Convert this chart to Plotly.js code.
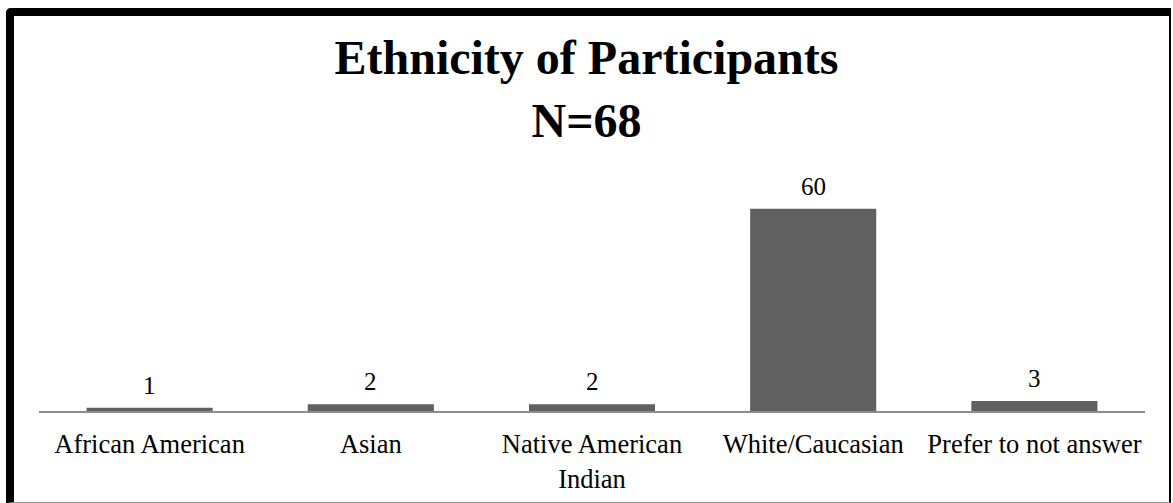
<!DOCTYPE html>
<html>
<head>
<meta charset="utf-8">
<script src="https://cdn.plot.ly/plotly-3.0.1.min.js"></script>
<style>
  html, body { margin: 0; padding: 0; background: #fff; }
  #wrap { position: relative; width: 1173px; height: 503px; overflow: hidden; }
  #chart { position: absolute; left: 0; top: 0; width: 1173px; height: 503px; }
  #frame {
    position: absolute; left: 6px; top: 8px; width: 1155px; height: 486px;
    border-top: 8px solid #000; border-left: 8px solid #000;
    border-right: 2px solid #000; border-bottom: 1px solid #999;
    border-top-left-radius: 5px; pointer-events: none;
  }
</style>
</head>
<body>
<div id="wrap">
  <div id="chart"></div>
  <div id="frame"></div>
</div>
<script>
const categories = ["African American", "Asian", "Native American<br>Indian", "White/Caucasian", "Prefer to not answer"];
const counts = [1, 2, 2, 60, 3];
const chartTitle = "Ethnicity of Participants<br>N=68";

const serif = "Liberation Serif, Times New Roman, serif";

const trace = {
  type: "bar",
  x: categories,
  y: counts,
  marker: { color: "#606060" },
  hoverinfo: "x+y"
};

const annotations = categories.map((c, i) => ({
  x: c, y: counts[i], xref: "x", yref: "y",
  text: String(counts[i]), showarrow: false,
  yanchor: "bottom", yshift: 7,
  font: { family: serif, size: 25, color: "#000" }
}));

const layout = {
  width: 1173, height: 503,
  margin: { l: 39, r: 28, t: 175, b: 92 },
  paper_bgcolor: "#fff", plot_bgcolor: "#fff",
  showlegend: false,
  bargap: 0.43,
  title: {
    text: chartTitle,
    font: { family: serif, size: 48, color: "#000", weight: "bold" },
    x: 0.5, xanchor: "center",
    yref: "container", y: 0.852, yanchor: "top"
  },
  xaxis: {
    type: "category",
    showline: true, linecolor: "#8c8c8c", linewidth: 1.5,
    ticks: "", showgrid: false, zeroline: false,
    tickfont: { family: serif, size: 26.5, color: "#000" },
    ticklabelstandoff: 9,
    fixedrange: true
  },
  yaxis: {
    range: [0, 70], visible: false, showgrid: false, zeroline: false,
    fixedrange: true
  },
  annotations: annotations
};

Plotly.newPlot("chart", [trace], layout, { displayModeBar: false, staticPlot: true });
</script>
</body>
</html>
